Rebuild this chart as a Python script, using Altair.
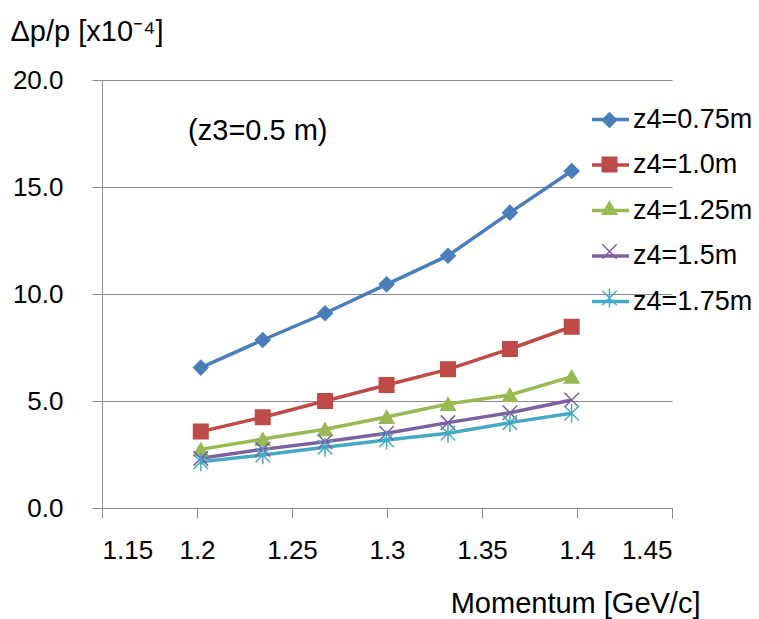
import altair as alt
import pandas as pd

FONT = "Liberation Sans"

momentum = [1.202, 1.2346, 1.2674, 1.2998, 1.3321, 1.3647, 1.3972]
series_names = ["z4=0.75m", "z4=1.0m", "z4=1.25m", "z4=1.5m", "z4=1.75m"]
dp_z4_075 = [6.56, 7.85, 9.10, 10.45, 11.79, 13.80, 15.75]
dp_z4_100 = [3.57, 4.24, 5.00, 5.75, 6.48, 7.43, 8.47]
dp_z4_125 = [2.74, 3.22, 3.68, 4.25, 4.86, 5.28, 6.14]
dp_z4_150 = [2.32, 2.74, 3.10, 3.49, 3.99, 4.45, 5.05]
dp_z4_175 = [2.16, 2.48, 2.84, 3.18, 3.49, 3.99, 4.43]
series_values = [dp_z4_075, dp_z4_100, dp_z4_125, dp_z4_150, dp_z4_175]
colors = ["#4A7EBB", "#BE4B48", "#98B954", "#7D60A0", "#46AAC5"]
shapes = ["diamond", "square", "triangle-up",
          "M-1,-1L1,1M-1,1L1,-1",
          "M-1,-1L1,1M-1,1L1,-1M0,-1.3L0,1.3"]
x_ticks = [1.15, 1.2, 1.25, 1.3, 1.35, 1.4, 1.45]
y_ticks = [0, 5, 10, 15, 20]
annotation_text = "(z3=0.5 m)"
annotation_pos = [1.232, 17.6]

rows = []
for name, vals in zip(series_names, series_values):
    for xv, yv in zip(momentum, vals):
        rows.append({"momentum": xv, "dp": yv, "series": name, "series_p": name + " "})
df = pd.DataFrame(rows)
p_names = [n + " " for n in series_names]

x_enc = alt.X("momentum:Q",
              scale=alt.Scale(domain=[1.15, 1.45], nice=False, zero=False),
              axis=alt.Axis(values=x_ticks, format="~g", grid=False, tickSize=10,
                            labelFontSize=26, labelBaseline="alphabetic", labelPadding=40,
                            title="Momentum [GeV/c]", titleFontSize=29,
                            titleAlign="right", titleBaseline="alphabetic",
                            titleX=598, titleY=104, titleAnchor="end"))
y_enc = alt.Y("dp:Q",
              scale=alt.Scale(domain=[0, 20], nice=False),
              axis=alt.Axis(values=y_ticks, format=".1f", grid=True, tickSize=10,
                            labelFontSize=26, labelPadding=29,
                            title="Δp/p [x10⁻⁴]", titleFontSize=29, titleAngle=0,
                            titleAlign="left", titleBaseline="alphabetic",
                            titleX=-92, titleY=-40))

line_legend = alt.Legend(title=None, orient="none", legendX=488, legendY=19,
                         symbolType="stroke", symbolSize=1369, symbolStrokeWidth=3.5,
                         labelFontSize=27, labelFont=FONT, labelColor="black",
                         rowPadding=11.5, padding=0, labelOffset=2)
pt_legend = alt.Legend(title=None, orient="none", legendX=499.5, legendY=32,
                       symbolSize=210, symbolStrokeWidth=1.5, symbolOpacity=1,
                       labelExpr="''", labelFontSize=1,
                       rowPadding=22.5, padding=0, labelOffset=0)

lines = alt.Chart(df).mark_line(strokeWidth=3.5).encode(
    x=x_enc, y=y_enc,
    color=alt.Color("series:N", scale=alt.Scale(domain=series_names, range=colors),
                    legend=line_legend),
)

pts = alt.Chart(df).mark_point(filled=True, size=210, strokeWidth=1.5, opacity=1).encode(
    x=x_enc, y=y_enc,
    fill=alt.Fill("series_p:N", scale=alt.Scale(domain=p_names, range=colors), legend=pt_legend),
    stroke=alt.Stroke("series_p:N", scale=alt.Scale(domain=p_names, range=colors), legend=pt_legend),
    shape=alt.Shape("series_p:N", scale=alt.Scale(domain=p_names, range=shapes), legend=pt_legend),
)

ann_df = pd.DataFrame({"t": [annotation_text], "x": [annotation_pos[0]], "y": [annotation_pos[1]]})
ann = alt.Chart(ann_df).mark_text(fontSize=29, font=FONT, color="black").encode(
    x="x:Q", y="y:Q", text="t:N")

chart = alt.layer(lines, pts, ann).properties(
    width=570, height=428,
    autosize=alt.AutoSizeParams(type="none"),
    padding={"left": 102, "top": 80, "right": 87, "bottom": 111},
    background="white",
).configure_view(stroke=None).configure_axis(
    domainColor="#8a8a8a", tickColor="#8a8a8a", gridColor="#8a8a8a",
    domainWidth=1, tickWidth=1, gridWidth=1,
    labelColor="black", titleColor="black", labelFont=FONT, titleFont=FONT,
    titleFontWeight="normal",
)

chart.save("out.html", embed_options={"renderer": "svg", "actions": False})
